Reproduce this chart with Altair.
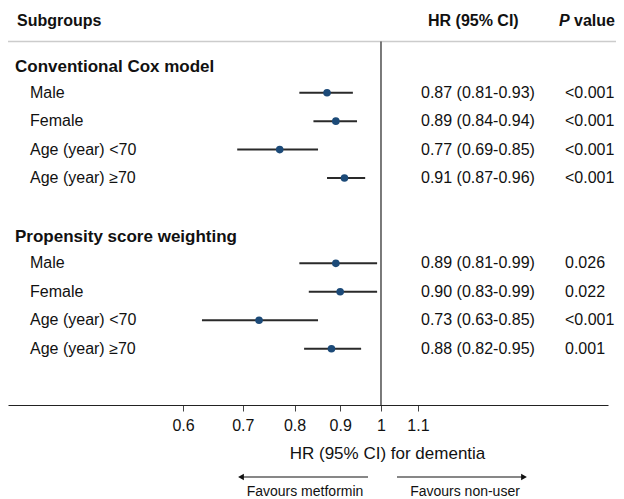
import altair as alt
import pandas as pd

# ---------------- data ----------------
groups = ["Conventional Cox model", "Propensity score weighting"]
subgroups = ["Male", "Female", "Age (year) <70", "Age (year) \u226570"]
hr = [0.87, 0.89, 0.77, 0.91, 0.89, 0.90, 0.73, 0.88]
lo = [0.81, 0.84, 0.69, 0.87, 0.81, 0.83, 0.63, 0.82]
hi = [0.93, 0.94, 0.85, 0.96, 0.99, 0.99, 0.85, 0.95]
pvals = ["<0.001", "<0.001", "<0.001", "<0.001", "0.026", "0.022", "<0.001", "0.001"]
tick_values = [0.6, 0.7, 0.8, 0.9, 1, 1.1]
axis_title = "HR (95% CI) for dementia"
arrow_labels = ["Favours metformin", "Favours non-user"]

# ---------------- layout ----------------
FONT = "Arial, Liberation Sans, sans-serif"
W, H = 600, 397
ROW_HEADER = -1.52
ROW_LINE = -0.80
ROW_AXIS = 11.98
ROW_TOP = -1.978
GROUP_SHIFT = 0.08

rows = []
for i, g in enumerate(groups):
    base = i * 6
    for j, s in enumerate(subgroups):
        k = i * 4 + j
        rows.append(dict(row=base + 1 + j, label=s, hr=hr[k], lo=lo[k], hi=hi[k],
                         ci=f"{hr[k]:.2f} ({lo[k]:.2f}-{hi[k]:.2f})", p=pvals[k]))
df = pd.DataFrame(rows)
gdf = pd.DataFrame({"row": [i * 6 + GROUP_SHIFT for i in range(len(groups))], "label": groups})
hdr = pd.DataFrame({"row": [ROW_HEADER]})
vline = pd.DataFrame({"x": [1.0], "y1": [ROW_LINE], "y2": [ROW_AXIS]})

xscale = alt.Scale(type="log", domain=[0.3819, 1.7965], nice=False, zero=False)
yscale = alt.Scale(domain=[ROW_TOP, ROW_AXIS], reverse=True, nice=False, zero=False)


def Y(f):
    return alt.Y(f, scale=yscale, axis=None)


txt = dict(font=FONT, fontSize=16, color="#111111", baseline="middle", align="left")

ci = alt.Chart(df).mark_rule(color="#2a2a2a", strokeWidth=2).encode(
    x=alt.X("lo:Q", scale=xscale,
            axis=alt.Axis(values=tick_values, format=".1~f", title=axis_title, grid=False,
                          domainColor="#222222", domainWidth=1.2, tickColor="#444444",
                          tickSize=6, tickWidth=1, labelFont=FONT, labelFontSize=16,
                          labelColor="#111111", labelPadding=6, labelOverlap=False,
                          labelFlush=False, titleFont=FONT, titleFontSize=17,
                          titleFontWeight="normal", titleColor="#111111", titlePadding=12,
                          titleX=379)),
    x2="hi:Q",
    y=Y("row:Q"),
)
pts = alt.Chart(df).mark_circle(color="#1c4a78", opacity=1, size=58).encode(
    x=alt.X("hr:Q", scale=xscale), y=Y("row:Q"))

vrule = alt.Chart(vline).mark_rule(color="#222222", strokeWidth=1.2).encode(
    x=alt.X("x:Q", scale=xscale), y=Y("y1:Q"), y2="y2:Q")
hrule = alt.Chart(pd.DataFrame({"row": [ROW_LINE]})).mark_rule(color="#cccccc", strokeWidth=1.5).encode(
    x=alt.value(0), x2=alt.value(608), y=Y("row:Q"))

sub_txt = alt.Chart(df).mark_text(**txt).encode(x=alt.value(22), y=Y("row:Q"), text="label:N")
ci_txt = alt.Chart(df).mark_text(**txt).encode(x=alt.value(413), y=Y("row:Q"), text="ci:N")
p_txt = alt.Chart(df).mark_text(**txt).encode(x=alt.value(557), y=Y("row:Q"), text="p:N")
grp_txt = alt.Chart(gdf).mark_text(**{**txt, "fontSize": 17, "fontWeight": "bold"}).encode(
    x=alt.value(7), y=Y("row:Q"), text="label:N")

hb = {**txt, "fontSize": 16, "fontWeight": "bold"}
h1 = alt.Chart(hdr).mark_text(**hb, text="Subgroups").encode(x=alt.value(9), y=Y("row:Q"))
h2 = alt.Chart(hdr).mark_text(**hb, text="HR (95% CI)").encode(x=alt.value(420), y=Y("row:Q"))
h3 = alt.Chart(hdr).mark_text(**hb, text="P", fontStyle="italic").encode(x=alt.value(551), y=Y("row:Q"))
h4 = alt.Chart(hdr).mark_text(**hb, text="value").encode(x=alt.value(566), y=Y("row:Q"))

# arrows below the axis
AY = 469
a1 = alt.Chart(hdr).mark_rule(color="#111111", strokeWidth=1.2).encode(
    x=alt.value(360), x2=alt.value(233), y=alt.value(AY))
a2 = alt.Chart(hdr).mark_rule(color="#111111", strokeWidth=1.2).encode(
    x=alt.value(389), x2=alt.value(515), y=alt.value(AY))
ah1 = alt.Chart(hdr).mark_point(shape="triangle-left", filled=True, color="#111111", size=45, opacity=1).encode(
    x=alt.value(233), y=alt.value(AY))
ah2 = alt.Chart(hdr).mark_point(shape="triangle-right", filled=True, color="#111111", size=45, opacity=1).encode(
    x=alt.value(516), y=alt.value(AY))
lab = {**txt, "fontSize": 14, "align": "center"}
l1 = alt.Chart(hdr).mark_text(**lab, text=arrow_labels[0]).encode(x=alt.value(297), y=alt.value(484))
l2 = alt.Chart(hdr).mark_text(**lab, text=arrow_labels[1]).encode(x=alt.value(457), y=alt.value(484))

chart = alt.layer(
    hrule, vrule, ci, pts, sub_txt, ci_txt, p_txt, grp_txt, h1, h2, h3, h4,
    a1, a2, ah1, ah2, l1, l2,
).properties(
    width=W, height=H,
    autosize=alt.AutoSizeParams(type="none"),
    padding={"left": 0, "top": 0, "right": 8, "bottom": 96},
).configure_view(stroke=None)

chart.save("out.html", embed_options={"renderer": "svg", "actions": False})
